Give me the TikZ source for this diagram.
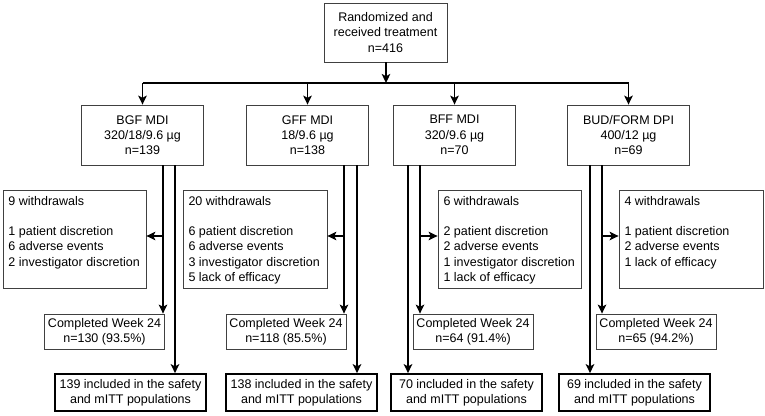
\documentclass[tikz,border=0pt]{standalone}
\usepackage{fontspec}
\setmainfont{Liberation Sans}
\usetikzlibrary{arrows.meta}
\tikzset{
  every node/.style={font=\fontsize{12.5}{15.3}\selectfont},
  box/.style={draw=black!75, line width=0.8pt, align=center, inner sep=0pt, minimum width=122pt, minimum height=60pt},
  wbox/.style={draw=black!75, line width=0.8pt, inner xsep=5.5pt, inner ysep=6pt},
  cbox/.style={draw=black!75, line width=0.8pt, align=center, inner sep=0pt, minimum width=120pt, minimum height=35pt},
  sbox/.style={draw=black, line width=1.7pt, align=center, inner sep=0pt, minimum width=151pt, minimum height=37pt},
  conn/.style={line width=1.6pt},
  arr/.style={conn, -{Stealth[length=9pt,width=8.5pt,inset=2.2pt]}},
}
\newcommand{\wtext}[2]{\parbox[t][86pt][t]{#1}{#2}}
\begin{document}
\begin{tikzpicture}[x=1pt,y=-1pt]
\useasboundingbox (0,0) rectangle (765,415);
% top
\node[box, minimum width=123pt, minimum height=59pt] (top) at (385.5,32.5) {Randomized and\\received treatment\\n=416};
% arms
\node[box] (bgf) at (142.5,135) {BGF MDI\\320/18/9.6 µg\\n=139};
\node[box] (gff) at (307.5,135) {GFF MDI\\18/9.6 µg\\n=138};
\node[box] (bff) at (454.5,135) {BFF MDI\\320/9.6 µg\\n=70};
\node[box] (bud) at (628.5,135) {BUD/FORM DPI\\400/12 µg\\n=69};
% withdrawals
\node[wbox] (w1) at (74.5,239) {\wtext{132pt}{9 withdrawals\\[15.3pt]1 patient discretion\\6 adverse events\\2 investigator discretion}};
\node[wbox] (w2) at (255,239) {\wtext{133pt}{20 withdrawals\\[15.3pt]6 patient discretion\\6 adverse events\\3 investigator discretion\\5 lack of efficacy}};
\node[wbox] (w3) at (509.5,239) {\wtext{132pt}{6 withdrawals\\[15.3pt]2 patient discretion\\2 adverse events\\1 investigator discretion\\1 lack of efficacy}};
\node[wbox] (w4) at (691,239) {\wtext{133pt}{4 withdrawals\\[15.3pt]1 patient discretion\\2 adverse events\\1 lack of efficacy}};
% completed
\node[cbox] (c1) at (104.5,331.5) {Completed Week 24\\n=130 (93.5\%)};
\node[cbox] (c2) at (286,331.5) {Completed Week 24\\n=118 (85.5\%)};
\node[cbox] (c3) at (473,331.5) {Completed Week 24\\n=64 (91.4\%)};
\node[cbox] (c4) at (656,331.5) {Completed Week 24\\n=65 (94.2\%)};
% safety
\node[sbox] (s1) at (130.5,392.5) {139 included in the safety\\and mITT populations};
\node[sbox] (s2) at (301.5,392.5) {138 included in the safety\\and mITT populations};
\node[sbox] (s3) at (466.5,392.5) {70 included in the safety\\and mITT populations};
\node[sbox] (s4) at (634.5,392.5) {69 included in the safety\\and mITT populations};
% distribution line
\coordinate (hl) at (386,83);
\draw[arr] (top.south -| hl) -- (hl);
\draw[conn] (bgf.north |- hl) -- (bud.north |- hl);
\foreach \n in {bgf,gff,bff,bud}{\draw[arr] (\n.north |- hl) -- (\n.north);}
% vertical x positions
\coordinate (xa1) at (163,0); \coordinate (xb1) at (175,0);
\coordinate (xa2) at (344,0); \coordinate (xb2) at (357,0);
\coordinate (xb3) at (408,0); \coordinate (xa3) at (420,0);
\coordinate (xb4) at (590,0); \coordinate (xa4) at (602,0);
% BGF
\draw[arr] (bgf.south -| xa1) -- (c1.north -| xa1);
\draw[arr] (bgf.south -| xb1) -- (s1.north -| xb1);
\draw[arr] ([yshift=3pt]w1.east -| xa1) -- ([yshift=3pt]w1.east);
% GFF
\draw[arr] (gff.south -| xa2) -- (c2.north -| xa2);
\draw[arr] (gff.south -| xb2) -- (s2.north -| xb2);
\draw[arr] ([yshift=3pt]w2.east -| xa2) -- ([yshift=3pt]w2.east);
% BFF
\draw[arr] (bff.south -| xa3) -- (c3.north -| xa3);
\draw[arr] (bff.south -| xb3) -- (s3.north -| xb3);
\draw[arr] ([yshift=3pt]w3.west -| xa3) -- ([yshift=3pt]w3.west);
% BUD
\draw[arr] (bud.south -| xa4) -- (c4.north -| xa4);
\draw[arr] (bud.south -| xb4) -- (s4.north -| xb4);
\draw[arr] ([yshift=3pt]w4.west -| xa4) -- ([yshift=3pt]w4.west);
\end{tikzpicture}
\end{document}
